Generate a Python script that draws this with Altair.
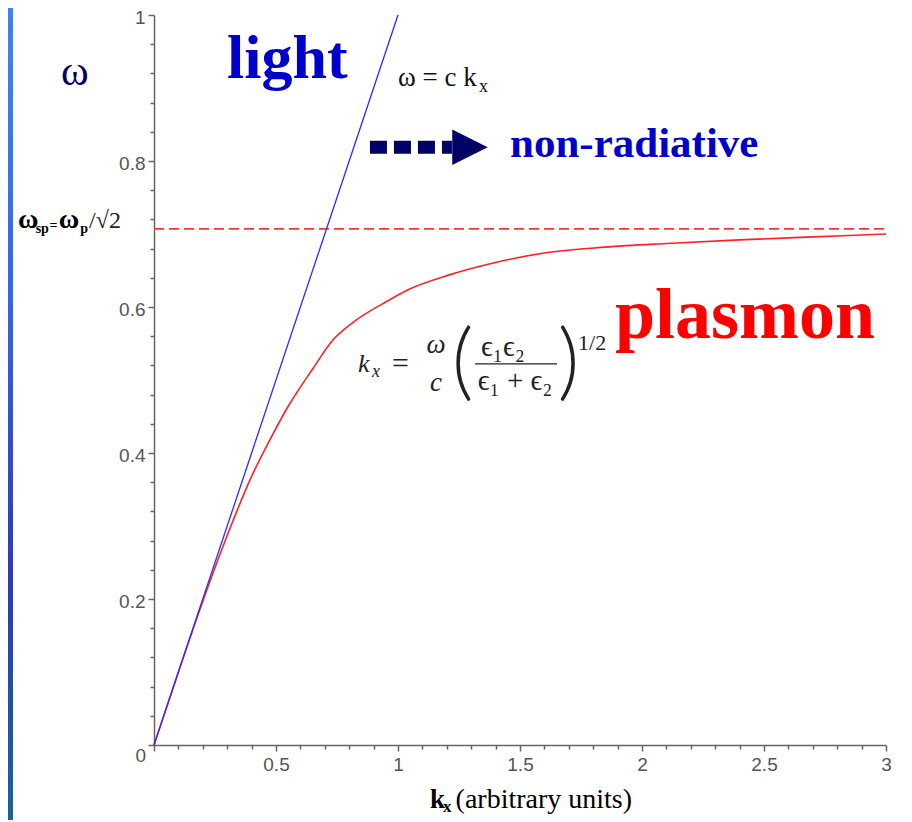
import altair as alt
import pandas as pd

# ---------------- data ----------------
light_k = [0.0, 1.0]
light_w = [0.0, 1.0]

plasmon_k = [0.0, 0.1, 0.2, 0.3, 0.4, 0.475, 0.55, 0.65, 0.734, 0.82, 0.94,
             1.05, 1.21, 1.4, 1.62, 1.85, 2.1, 2.4, 2.7, 3.0]
plasmon_w = [0.0, 0.1, 0.197, 0.287, 0.368, 0.418, 0.464, 0.515, 0.555, 0.58,
             0.605, 0.625, 0.644, 0.661, 0.675, 0.682, 0.687, 0.692, 0.696, 0.700]

w_sp = 0.707
k_range = [0, 3]
w_range = [0, 1]

x_ticks = [round(i * 0.1, 2) for i in range(31)]
y_ticks = [round(i * 0.04, 2) for i in range(26)]

# ---------------- scales ----------------
xs = alt.Scale(domain=k_range, nice=False, zero=False)
ys = alt.Scale(domain=w_range, nice=False, zero=False)

SERIF = "Liberation Serif, 'Times New Roman', Tinos, 'DejaVu Serif', serif"
SANS = "Liberation Sans, Arial, sans-serif"


def enc(ch, **extra):
    return ch.encode(
        x=alt.X("k:Q", scale=xs, axis=None),
        y=alt.Y("w:Q", scale=ys, axis=None),
        **extra,
    )


def txt(rows, **kw):
    df = pd.DataFrame(rows, columns=["k", "w", "t"])
    return enc(alt.Chart(df).mark_text(**kw), text="t:N")


# main curve with axes
plasmon_df = pd.DataFrame({"k": plasmon_k, "w": plasmon_w})
plasmon = alt.Chart(plasmon_df).mark_line(color="#ff2222", strokeWidth=1.6, interpolate="monotone").encode(
    x=alt.X("k:Q", scale=xs, axis=alt.Axis(
        values=x_ticks, title=None, grid=False, format="~g",
        labelExpr="(datum.value > 0.01 && abs(datum.value*2 - round(datum.value*2)) < 0.001) ? datum.label : ''",
        tickSize={"condition": {"test": "abs(datum.value*2 - round(datum.value*2)) < 0.001", "value": 6}, "value": 4},
        labelPadding=4, labelFlush=False, labelOverlap=False,
    )),
    y=alt.Y("w:Q", scale=ys, axis=alt.Axis(
        values=y_ticks, title=None, grid=False, format="~g",
        labelExpr="(datum.value > 0.01 && abs(datum.value*5 - round(datum.value*5)) < 0.001) ? datum.label : ''",
        tickSize={"condition": {"test": "abs(datum.value*5 - round(datum.value*5)) < 0.001", "value": 6}, "value": 4},
        labelPadding=3, labelFlush=False, labelOverlap=False, labelBaseline="middle", labelOffset=2,
    )),
    order="k:Q",
)

light_df = pd.DataFrame({"k": light_k, "w": light_w})
light = enc(alt.Chart(light_df).mark_line(color="#2a2aff", strokeWidth=1.3))

asym_df = pd.DataFrame({"k": k_range, "w": [w_sp, w_sp]})
asym = enc(alt.Chart(asym_df).mark_line(color="#ff3333", strokeWidth=1.6, strokeDash=[10, 5]))

# left gradient strip of the slide
strip = alt.Chart(pd.DataFrame({"a": [0]})).mark_rect(
    color=alt.LinearGradient(
        gradient="linear",
        stops=[alt.GradientStop(offset=0, color="#3a86f2"),
               alt.GradientStop(offset=0.35, color="#3565e8"),
               alt.GradientStop(offset=0.7, color="#2d3ab8"),
               alt.GradientStop(offset=0.85, color="#2050a8"),
               alt.GradientStop(offset=1, color="#1a62a0")],
        x1=0, x2=0, y1=0, y2=1)
).encode(x=alt.value(-146), x2=alt.value(-141), y=alt.value(-7), y2=alt.value(805))

# arrow "- - - ->"
arrow_shaft = enc(alt.Chart(pd.DataFrame({"k": [0.885, 1.221], "w": [0.819, 0.819]})).mark_line(
    color="#000066", strokeWidth=13, strokeDash=[17, 7], strokeCap="butt"))
arrow_head = enc(alt.Chart(pd.DataFrame({"k": [1.295], "w": [0.819]})).mark_point(
    shape="M-1,-1L1,0L-1,1Z", size=1260, filled=True, color="#000066", opacity=1))

# fraction line of the formula
frac_line = enc(alt.Chart(pd.DataFrame({"k": [1.316, 1.652], "w": [0.522, 0.522]})).mark_line(
    color="#222222", strokeWidth=1.2))

layers = [
    plasmon, strip, asym, light, arrow_shaft, arrow_head, frac_line,
    txt([[-0.324, 0.904, "ω"]], font=SERIF, fontSize=42, color="#000066", align="center", baseline="alphabetic"),
    txt([[0.299, 0.914, "light"]], font=SERIF, fontSize=62, fontWeight="bold", color="#0000cc", align="left", baseline="alphabetic"),
    txt([[1.0, 0.903, "ω = c k"]], font=SERIF, fontSize=27, color="#111111", align="left", baseline="alphabetic"),
    txt([[1.332, 0.895, "x"]], font=SERIF, fontSize=18, color="#111111", align="left", baseline="alphabetic"),
    txt([[1.459, 0.805, "non-radiative"]], font=SERIF, fontSize=43, fontWeight="bold", color="#0000cc", align="left", baseline="alphabetic"),
    txt([[1.889, 0.558, "plasmon"]], font=SERIF, fontSize=72, fontWeight="bold", color="#ff0000", align="left", baseline="alphabetic"),
    # omega_sp label
    txt([[-0.557, 0.708, "ω"], [-0.39, 0.708, "ω"]], font=SERIF, fontSize=28, fontWeight="bold", color="#000000", align="left", baseline="alphabetic"),
    txt([[-0.485, 0.702, "sp"], [-0.302, 0.702, "p"]], font=SERIF, fontSize=14, fontWeight="bold", color="#000000", align="left", baseline="alphabetic"),
    txt([[-0.428, 0.705, "="]], font=SERIF, fontSize=14, fontWeight="bold", color="#000000", align="left", baseline="alphabetic"),
    txt([[-0.266, 0.708, "/√2"]], font=SERIF, fontSize=24, color="#222222", align="left", baseline="alphabetic"),
    # formula
    txt([[0.836, 0.511, "k"]], font=SERIF, fontSize=26, fontStyle="italic", color="#222222", align="left", baseline="alphabetic"),
    txt([[0.893, 0.504, "x"]], font=SERIF, fontSize=18, fontStyle="italic", color="#222222", align="left", baseline="alphabetic"),
    txt([[0.975, 0.509, "="]], font=SERIF, fontSize=30, color="#222222", align="left", baseline="alphabetic"),
    txt([[1.156, 0.537, "ω"], [1.156, 0.485, "c"]], font=SERIF, fontSize=27, fontStyle="italic", color="#222222", align="center", baseline="alphabetic"),
    txt([[1.22, 0.486, "("], [1.655, 0.486, ")"]], font="Lato, 'DejaVu Sans', sans-serif", fontSize=84, fontWeight=300, color="#222222", align="left", baseline="alphabetic"),
    txt([[1.43, 0.533, "ϵ₁ϵ₂"], [1.48, 0.486, "ϵ₁ + ϵ₂"]], font=SERIF, fontSize=29, color="#222222", align="center", baseline="alphabetic"),
    txt([[1.738, 0.541, "1/2"]], font=SERIF, fontSize=22, color="#222222", align="left", baseline="alphabetic"),
    # x axis title
    txt([[1.131, -0.0863, "k"]], font=SERIF, fontSize=27, fontWeight="bold", color="#000000", align="left", baseline="alphabetic"),
    txt([[1.184, -0.0918, "x"]], font=SERIF, fontSize=17, fontWeight="bold", color="#000000", align="left", baseline="alphabetic"),
    txt([[1.236, -0.0863, "(arbitrary units)"]], font=SERIF, fontSize=28, color="#000000", align="left", baseline="alphabetic"),
    # origin label
    txt([[-0.0328, -0.0151, "0"]], font=SANS, fontSize=19, color="#555555", align="right", baseline="middle"),
]

chart = alt.layer(*layers).resolve_axis(x="independent", y="independent").properties(
    width=732, height=730,
    autosize=alt.AutoSizeParams(type="none"),
    padding={"left": 146, "top": 7, "right": 18, "bottom": 75},
    background="#ffffff",
).configure_view(strokeWidth=0).configure_axis(
    domainColor="#666666", domainWidth=1.5, tickColor="#666666", tickWidth=1.5,
    labelColor="#555555", labelFont=SANS, labelFontSize=19,
)

chart.save("out.html", embed_options={"renderer": "svg", "actions": False})
